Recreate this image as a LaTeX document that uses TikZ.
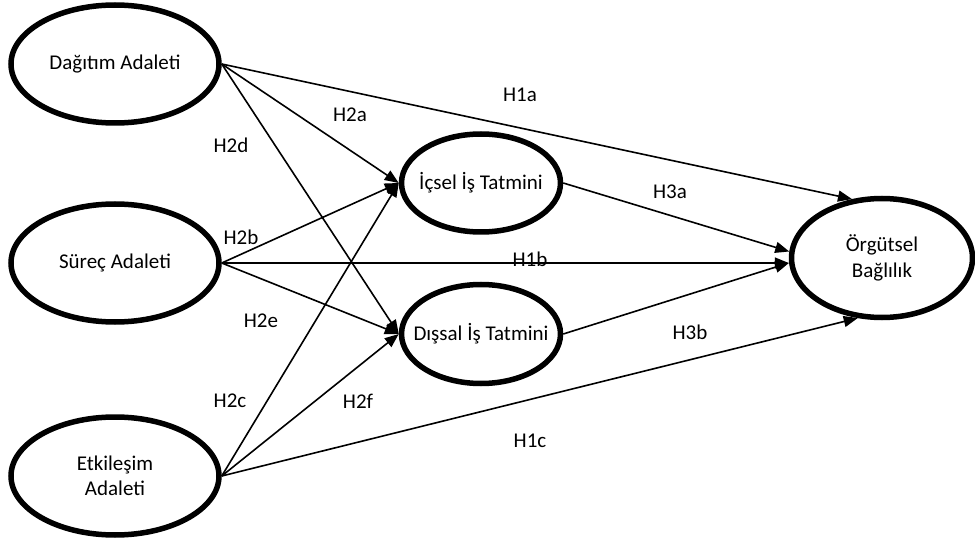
\documentclass[tikz,border=0pt]{standalone}
\usepackage{fontspec}
\setmainfont{Carlito}
\usetikzlibrary{arrows.meta,shapes.geometric}

\begin{document}
\begin{tikzpicture}[x=1pt,y=-1pt,
  construct/.style={ellipse,draw,line width=5.5pt,inner sep=0pt,align=center,font=\fontsize{21}{25.5}\selectfont},
  hyp/.style={line width=1.6pt,-{Triangle[length=14pt,width=11pt]}},
  hlabel/.style={inner sep=1pt,font=\fontsize{21}{25.5}\selectfont}]
\useasboundingbox (0,0) rectangle (975,540);

% constructs
\node[construct,minimum width=208pt,minimum height=118pt] (dag) at (115,64) {Dağıtım Adaleti};
\node[construct,minimum width=208pt,minimum height=118pt] (sur) at (115,263) {Süreç Adaleti};
\node[construct,minimum width=208pt,minimum height=118pt] (et) at (115,476) {Etkileşim\\Adaleti};

\node[construct,minimum width=159pt,minimum height=98pt] (ic) at (481,183) {\makebox[0pt]{İçsel İş Tatmini}};
\node[construct,minimum width=159pt,minimum height=99pt] (dis) at (481,334) {\makebox[0pt]{Dışsal İş Tatmini}};

\node[construct,minimum width=181pt,minimum height=119pt] (org) at (882,258) {Örgütsel\\Bağlılık};

% labels
\node[hlabel] (h1a) at (520,95) {H1a};
\node[hlabel] (h1b) at (530,259) {H1b};
\node[hlabel] (h1c) at (530,441) {H1c};
\node[hlabel] (h2a) at (350,115) {H2a};
\node[hlabel] (h2b) at (241,237) {H2b};
\node[hlabel] (h2c) at (230,401) {H2c};
\node[hlabel] (h2d) at (231,145) {H2d};
\node[hlabel] (h2e) at (261,321) {H2e};
\node[hlabel] (h2f) at (358,401) {H2f};
\node[hlabel] (h3a) at (670,192) {H3a};
\node[hlabel] (h3b) at (690,332) {H3b};

% hypotheses
\draw[hyp] (dag.east) -- (org.117);
\draw[hyp] (dag.east) -- (ic.west);
\draw[hyp] (dag.east) -- (dis.west);

\draw[hyp] (sur.east) -- (ic.west);
\draw[hyp] (sur.east) -- (sur.east -| org.west);
\draw[hyp] (sur.east) -- (dis.west);

\draw[hyp] (et.east) -- (ic.west);
\draw[hyp] (et.east) -- (dis.west);
\draw[hyp] (et.east) -- (org.248);

\draw[hyp] (ic.east) -- (org.176);
\draw[hyp] (dis.east) -- (org.183);
\end{tikzpicture}
\end{document}
